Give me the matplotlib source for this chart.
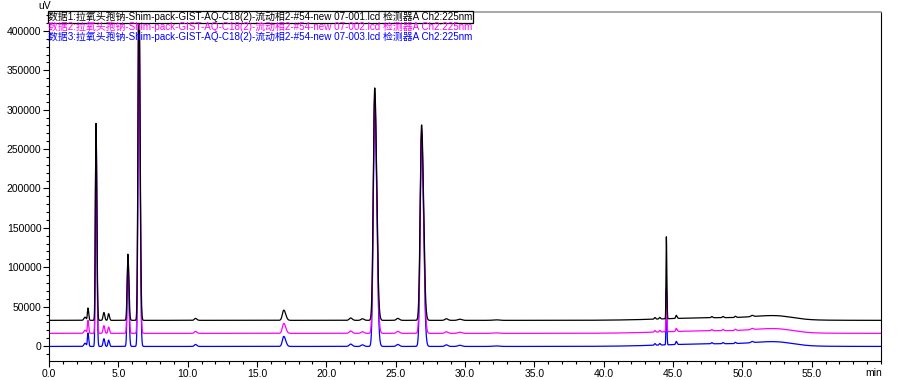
import matplotlib
matplotlib.use("Agg")
import matplotlib.pyplot as plt
import numpy as np
from matplotlib.ticker import MultipleLocator, FormatStrFormatter

plt.rcParams['font.family'] = ['Liberation Sans', 'Noto Sans CJK SC']

# chromatogram data (time in min, heights in uV)
trace_names = [
    "数据1:拉氧头孢钠-Shim-pack-GIST-AQ-C18(2)-流动相2-#54-new 07-001.lcd 检测器A Ch2:225nm",
    "数据2:拉氧头孢钠-Shim-pack-GIST-AQ-C18(2)-流动相2-#54-new 07-002.lcd 检测器A Ch2:225nm",
    "数据3:拉氧头孢钠-Shim-pack-GIST-AQ-C18(2)-流动相2-#54-new 07-003.lcd 检测器A Ch2:225nm",
]
trace_colors = ["black", "#ff00ff", "#0000ff"]
baselines = [32600, 16100, -500]

# peak table: retention time, left / right width (sigma, min)
peak_times = [2.60, 2.81, 3.39, 3.96, 4.30, 5.69, 6.48, 10.56, 16.93, 21.75,
              22.60, 23.49, 25.15, 26.87, 28.65, 29.60, 32.2, 43.7, 44.05,
              44.52, 45.23, 47.8, 48.6, 49.5, 50.7, 48.0, 52.4]
sigma_left = [0.08, 0.04, 0.045, 0.06, 0.05, 0.055, 0.06, 0.08, 0.10, 0.10,
              0.10, 0.10, 0.10, 0.10, 0.10, 0.12, 0.2, 0.05, 0.05,
              0.025, 0.04, 0.05, 0.05, 0.05, 0.08, 3.5, 1.5]
sigma_right = [0.08, 0.05, 0.06, 0.06, 0.06, 0.07, 0.08, 0.10, 0.14, 0.12,
               0.12, 0.14, 0.12, 0.14, 0.12, 0.15, 0.2, 0.05, 0.05,
               0.035, 0.06, 0.06, 0.06, 0.06, 0.10, 3.5, 1.2]
heights_1 = [4000, 15500, 250000, 10000, 8500, 84000, 450000, 2500, 13000, 3000,
             2000, 295000, 2500, 248000, 2000, 1500, 700, 2000, 2000,
             104000, 4000, 1500, 1500, 1500, 1500, 3300, 4500]
heights_2 = [4000, 16500, 264000, 9700, 8000, 98000, 450000, 2500, 12700, 3000,
             2000, 305000, 2500, 258000, 2000, 1500, 700, 2000, 2000,
             55000, 4000, 1500, 1500, 1500, 1500, 3300, 4500]
heights_3 = [4000, 17000, 278000, 9800, 8000, 112000, 450000, 2500, 12700, 3000,
             2000, 315000, 2500, 268000, 2000, 1500, 700, 2000, 2000,
             68000, 4000, 1500, 1500, 1500, 1500, 3300, 4500]
heights = [heights_1, heights_2, heights_3]

x_ticks = [0, 5, 10, 15, 20, 25, 30, 35, 40, 45, 50, 55]
y_ticks = [0, 50000, 100000, 150000, 200000, 250000, 300000, 350000, 400000]

t = np.linspace(0, 60, 24001)


def trace(base, hs):
    y = np.full_like(t, base, dtype=float)
    for rt, sl, sr, h in zip(peak_times, sigma_left, sigma_right, hs):
        s = np.where(t < rt, sl, sr)
        y += h * np.exp(-0.5 * ((t - rt) / s) ** 2)
    return y


fig = plt.figure(figsize=(9, 3.8), dpi=100)
ax = fig.add_axes([49 / 900, 1 - 361 / 380, 832 / 900, 349 / 380])

# blue first so black ends up on top
for i in [2, 1, 0]:
    ax.plot(t, trace(baselines[i], heights[i]), color=trace_colors[i], lw=0.9)

ax.set_xlim(0, 60)
ax.set_ylim(-19000, 424000)
ax.set_xticks(x_ticks)
ax.set_yticks(y_ticks)
ax.xaxis.set_major_formatter(FormatStrFormatter('%.1f'))
ax.xaxis.set_minor_locator(MultipleLocator(1))
ax.yaxis.set_minor_locator(MultipleLocator(10000))
ax.tick_params(which='major', length=4, width=0.8, labelsize=7.5, pad=1.5)
ax.tick_params(which='minor', length=2.5, width=0.8)
ax.spines['top'].set_color('#999999')
ax.spines['top'].set_linewidth(1.2)

fig.text(45 / 900, 1 - 6 / 380, "uV", fontsize=7.5, ha='center', va='center')
fig.text(874 / 900, 1 - 373 / 380, "min", fontsize=7.5, ha='center', va='center')

for i, name in enumerate(trace_names):
    kw = {}
    if i == 0:
        kw['bbox'] = dict(boxstyle='square,pad=0.05', fc='white', ec='black', lw=0.9)
    fig.text(48 / 900, 1 - (17 + 10 * i) / 380, name, color=trace_colors[i],
             fontsize=7.1, ha='left', va='center', **kw)

fig.savefig("out.png", dpi=100)
